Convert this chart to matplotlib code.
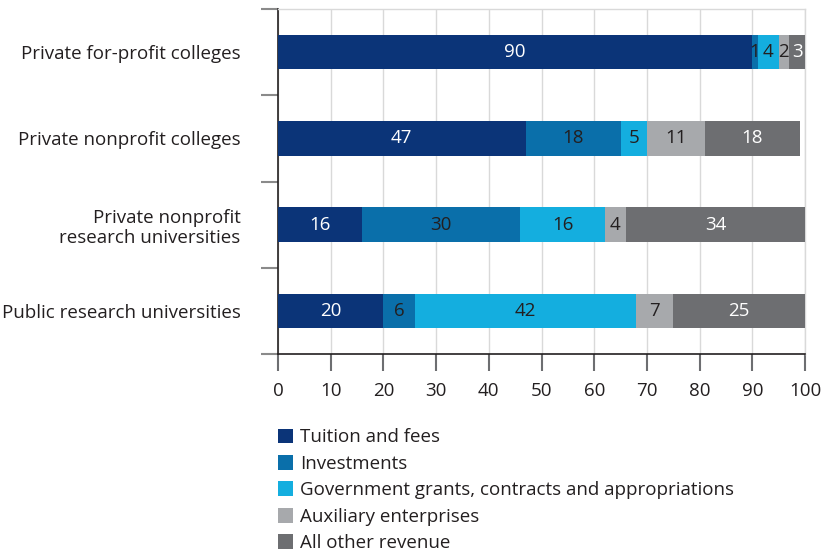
import matplotlib
matplotlib.use("Agg")
import matplotlib.pyplot as plt
from matplotlib.patches import Patch

plt.rcParams['font.family'] = ['Open Sans', 'DejaVu Sans']

# Revenue shares (percent) by institution type
categories = ["Private for-profit colleges",
              "Private nonprofit colleges",
              "Private nonprofit\nresearch universities",
              "Public research universities"]
sources = ["Tuition and fees",
           "Investments",
           "Government grants, contracts and appropriations",
           "Auxiliary enterprises",
           "All other revenue"]
tuition = [90, 47, 16, 20]
investments = [1, 18, 30, 6]
government = [4, 5, 16, 42]
auxiliary = [2, 11, 4, 7]
other = [3, 18, 34, 25]

series = [tuition, investments, government, auxiliary, other]
colors = ["#0b3478", "#0a6faa", "#14aedf", "#a7a9ac", "#6d6e71"]
label_colors = ["white", "#231f20", "#231f20", "#231f20", "white"]
text_color = "#231f20"
fs = 13.5

fig = plt.figure(figsize=(8.25, 5.53), dpi=100)
ax = fig.add_axes([278 / 825, 1 - 354 / 553, 527 / 825, 345 / 553])

ypos = list(range(len(categories)))
left = [0] * len(categories)
for vals, col, lcol in zip(series, colors, label_colors):
    bars = ax.barh(ypos, vals, left=left, height=0.4, color=col, zorder=3)
    for b, v in zip(bars, vals):
        cx = b.get_x() + b.get_width() / 2
        ax.text(cx, b.get_y() + b.get_height() / 2, str(v), ha='center',
                va='center', fontsize=fs, color=lcol, zorder=4)
    left = [a + b for a, b in zip(left, vals)]

ax.set_xlim(0, 100)
ax.set_ylim(len(categories) - 0.5, -0.5)

# vertical grid
ax.set_xticks(range(0, 101, 10))
ax.grid(axis='x', color='#d9d9d9', linewidth=1, zorder=0)
ax.tick_params(axis='x', length=12, width=1.5, color='#6d6e71', pad=8,
               labelsize=fs, labelcolor=text_color)

# category separators as major ticks, names as minor ticks
ax.set_yticks([i - 0.5 for i in range(len(categories) + 1)])
ax.set_yticklabels([])
ax.set_yticks(ypos, minor=True)
ax.set_yticklabels(categories, minor=True, fontsize=fs, color=text_color,
                   ha='right', multialignment='right', linespacing=1.15)
ax.tick_params(axis='y', which='major', length=12, width=1.5, color='#8a8a8a')
ax.tick_params(axis='y', which='minor', length=0, pad=27)

for s in ['top', 'right']:
    ax.spines[s].set_color('#d9d9d9')
    ax.spines[s].set_linewidth(1)
ax.spines['left'].set_color('#231f20')
ax.spines['bottom'].set_color('#231f20')
ax.spines['left'].set_linewidth(1.2)
ax.spines['bottom'].set_linewidth(1.2)

handles = [Patch(facecolor=c, edgecolor='none') for c in colors]
fig.legend(handles, sources, loc='upper left',
           bbox_to_anchor=(270 / 825, 1 - 421 / 553), frameon=False,
           fontsize=fs, handlelength=0.85, handleheight=0.85,
           handletextpad=0.35, labelspacing=0.45, borderaxespad=0,
           labelcolor=text_color)

fig.savefig("out.png", dpi=100)
